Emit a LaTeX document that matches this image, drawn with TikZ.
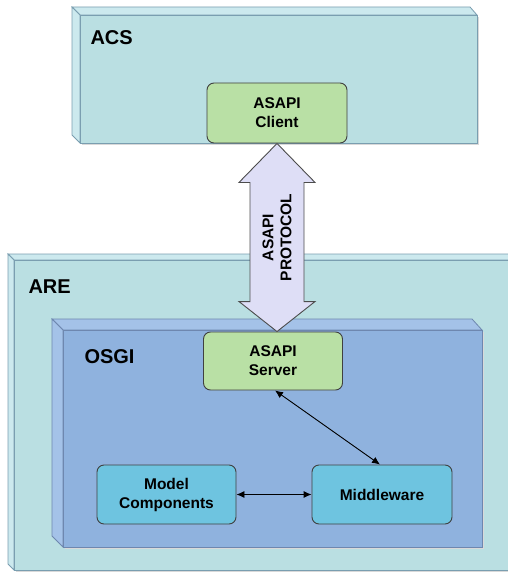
\documentclass[tikz,border=0pt]{standalone}
\usepackage{fontspec}
\setmainfont{Liberation Sans}
\usetikzlibrary{calc,positioning,arrows.meta}

\definecolor{slabfill}{RGB}{186,223,226}
\definecolor{slablight}{RGB}{204,233,238}
\definecolor{slabline}{RGB}{122,158,176}
\definecolor{osgifill}{RGB}{143,178,222}
\definecolor{osgilight}{RGB}{164,194,232}
\definecolor{osgiline}{RGB}{110,135,175}
\definecolor{partgreen}{RGB}{185,224,165}
\definecolor{partcyan}{RGB}{110,196,224}
\definecolor{protofill}{RGB}{222,222,246}

\tikzset{
  slab/.style={fill=slabfill,draw=slabline,line width=0.8pt},
  slabface/.style={fill=slablight,draw=slabline,line width=0.8pt},
  osgi/.style={fill=osgifill,draw=osgiline,line width=0.8pt},
  osgiface/.style={fill=osgilight,draw=osgiline,line width=0.8pt},
  shadow/.style={fill=black!15},
  title/.style={anchor=west,font=\bfseries\fontsize{20}{24}\selectfont},
  part/.style={draw=black!75,line width=0.9pt,rounded corners=7pt,align=center,
    inner sep=0pt,minimum width=139pt,minimum height=59pt,
    font=\bfseries\fontsize{15.5}{19}\selectfont},
  link/.style={{Latex[length=8pt,width=7pt]}-{Latex[length=8pt,width=7pt]},line width=0.9pt},
}

\begin{document}
\begin{tikzpicture}[x=1pt,y=-1pt]
\useasboundingbox (0,0) rectangle (507,572);

% ARE
\fill[shadow] (16,262) rectangle (512,572);
\filldraw[slabface] (8,254) -- (512,254) -- (512,260) -- (14,260) -- cycle;
\filldraw[slabface] (8,254) -- (14,260) -- (14,570) -- (8,564) -- cycle;
\filldraw[slab] (14,260) rectangle (512,570);
\node[title] (arelbl) at (25,287) {ARE};

% OSGI
\fill[shadow] (65,332) rectangle (484,549);
\filldraw[osgiface] (52,319) -- (472,319) -- (482,330) -- (63,330) -- cycle;
\filldraw[osgiface] (52,319) -- (63,330) -- (63,547) -- (52,536) -- cycle;
\filldraw[osgi] (63,330) rectangle (482,547);
\node[title] (osgilbl) at (81,357) {OSGI};

% ACS
\fill[shadow] (82,17) rectangle (479,145);
\filldraw[slabface] (72,7) -- (470,7) -- (477,15) -- (80,15) -- cycle;
\filldraw[slabface] (72,7) -- (80,15) -- (80,143) -- (72,135) -- cycle;
\filldraw[slab] (80,15) rectangle (477,143);
\node[title] (acslbl) at (87,38) {ACS};

% Bausteine
\node[part,fill=partgreen,minimum width=140pt,minimum height=60pt] (client) at (277,113) {ASAPI\\Client};
\node[part,fill=partgreen,minimum height=58pt] (server) at (273,361) {ASAPI\\Server};
\node[part,fill=partcyan] (model) at (166.5,494.5) {Model\\Components};
\node[part,fill=partcyan,minimum width=140pt] (middleware) at (382,494.5) {Middleware};

% Protokoll-Pfeil
\coordinate (ptop) at (client.south);
\coordinate (pbot) at (ptop |- server.north);
\filldraw[fill=protofill,draw=black!70,line width=0.9pt]
  (ptop) -- ++(-38,39) -- ++(11,0) |- ($(pbot)+(-27,-30)$) -- ++(-11,0) -- (pbot)
  -- ++(38,-30) -- ++(-11,0) |- ($(ptop)+(27,39)$) -- ++(11,0) -- cycle;
\node[rotate=90,align=center,font=\bfseries\fontsize{15.5}{18}\selectfont]
  (proto) at ($(ptop)!0.5!(pbot)$) {ASAPI\\PROTOCOL};

% Verbindungen
\draw[link] ($(server.south)+(2,0)$) -- ($(middleware.north)+(-2,0)$);
\draw[link] (model.east) -- (middleware.west);

\end{tikzpicture}
\end{document}
